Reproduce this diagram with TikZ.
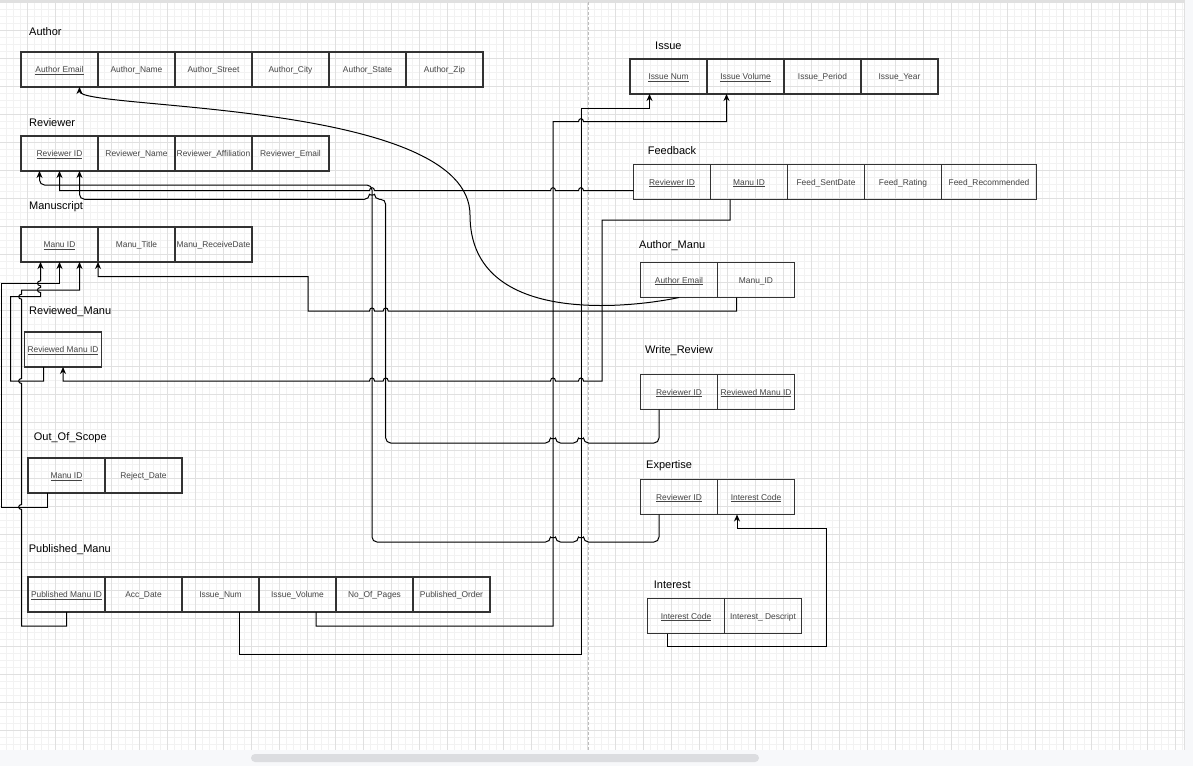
\documentclass[tikz,border=0pt]{standalone}
\usepackage{fontspec}
\setmainfont{Liberation Sans}
\usepackage{xcolor}
\usetikzlibrary{arrows.meta, positioning}
\definecolor{cellline}{HTML}{333333}
\definecolor{celltext}{HTML}{444444}
\definecolor{gridminor}{HTML}{F2F2F2}
\definecolor{gridmajor}{HTML}{E0E0E0}
\definecolor{chrome}{HTML}{F7F8FA}
\definecolor{thumb}{HTML}{DCDDE0}
\definecolor{pageline}{HTML}{BDBDBD}

% line jumps: moving left, moving right, moving up
\newcommand{\hopl}[2]{-- (#1+2.5,#2) .. controls (#1+2.5,#2-4) and (#1-2.5,#2-4) .. (#1-2.5,#2)}
\newcommand{\hopr}[2]{-- (#1-2.5,#2) .. controls (#1-2.5,#2-4) and (#1+2.5,#2-4) .. (#1+2.5,#2)}
\newcommand{\hopu}[2]{-- (#1,#2+2.5) .. controls (#1-4,#2+2.5) and (#1-4,#2-2.5) .. (#1,#2-2.5)}

\begin{document}
\begin{tikzpicture}[
    x=1pt, y=-1pt,
    attr/.style   = {
      rectangle, draw=cellline, line width=1.1pt,
      outer sep=0pt, inner sep=0pt,
      minimum width=77pt, minimum height=35pt,
      text height=7.5pt, text depth=1.5pt,
      text=celltext, font=\fontsize{8.4}{10}\selectfont
    },
    entity/.style = {anchor=west, inner sep=0pt, font=\fontsize{11}{13}\selectfont},
    fk/.style     = {-{Stealth[length=7pt,width=6pt]}, line width=1pt, black},
    pagebreak/.style = {pageline, line width=0.8pt, dash pattern=on 3pt off 2pt}
  ]

  % canvas
  \useasboundingbox (0,0) rectangle (1193,766);
  \fill[white] (0,0) rectangle (1193,766);
  \begin{scope}[shift={(-0.7,2)}]
    \draw[gridminor, line width=0.6pt, step=7pt]  (0,748) grid (1184.7,0);
    \draw[gridmajor, line width=0.8pt, step=28pt] (0,748) grid (1184.7,0);
  \end{scope}
  \fill[gridmajor] (0,0) rectangle (1184,1.8);
  \fill[chrome] (1184,0) rectangle (1193,766);
  \fill[chrome] (0,750) rectangle (1193,766);
  \draw[gridmajor, line width=1pt] (1184,0) -- (1184,750);
  \fill[thumb, rounded corners=4pt] (251,754) rectangle (759,762);
  \draw[pagebreak] (588,2) -- (588,750);

  % Left column — x=21
  \node[entity] (tAuthor) at (29,32) {Author};
  \node[attr] at (59.5,69.5) (au1) {\underline{Author Email}};
  \node[attr, right=0pt of au1] (au2) {Author\_Name};
  \node[attr, right=0pt of au2] (au3) {Author\_Street};
  \node[attr, right=0pt of au3] (au4) {Author\_City};
  \node[attr, right=0pt of au4] (au5) {Author\_State};
  \node[attr, right=0pt of au5] (au6) {Author\_Zip};

  \node[entity] (tReviewer) at (29,123) {Reviewer};
  \node[attr] at (59.5,153.5) (rv1) {\underline{Reviewer ID}};
  \node[attr, right=0pt of rv1] (rv2) {Reviewer\_Name};
  \node[attr, right=0pt of rv2] (rv3) {Reviewer\_Affiliation};
  \node[attr, right=0pt of rv3] (rv4) {Reviewer\_Email};

  \node[entity] (tManuscript) at (29,207) {Manuscript};
  \node[attr] at (59.5,244.5) (ms1) {\underline{Manu ID}};
  \node[attr, right=0pt of ms1] (ms2) {Manu\_Title};
  \node[attr, right=0pt of ms2] (ms3) {Manu\_ReceiveDate};

  \node[entity] (tReviewed) at (29,312) {Reviewed\_Manu};
  \node[attr] at (63,349.5) (rm1) {\underline{Reviewed Manu ID}};

  \node[entity] (tScope) at (33.7,438) {Out\_Of\_Scope};
  \node[attr] at (66.5,475.5) (os1) {\underline{Manu ID}};
  \node[attr, right=0pt of os1] (os2) {Reject\_Date};

  \node[entity] (tPublished) at (28.7,550) {Published\_Manu};
  \node[attr] at (66.5,594.5) (pm1) {\underline{Published Manu ID}};
  \node[attr, right=0pt of pm1] (pm2) {Acc\_Date};
  \node[attr, right=0pt of pm2] (pm3) {Issue\_Num};
  \node[attr, right=0pt of pm3] (pm4) {Issue\_Volume};
  \node[attr, right=0pt of pm4] (pm5) {No\_Of\_Pages};
  \node[attr, right=0pt of pm5] (pm6) {Published\_Order};

  % Right column — x=633
  \node[entity] (tIssue) at (655,46) {Issue};
  \node[attr] at (668.5,76.5) (is1) {\underline{Issue Num}};
  \node[attr, right=0pt of is1] (is2) {\underline{Issue Volume}};
  \node[attr, right=0pt of is2] (is3) {Issue\_Period};
  \node[attr, right=0pt of is3] (is4) {Issue\_Year};

  \node[entity] (tFeedback) at (647.7,151) {Feedback};
  \node[attr] at (672,182) (fb1) {\underline{Reviewer ID}};
  \node[attr, right=0pt of fb1] (fb2) {\underline{Manu ID}};
  \node[attr, right=0pt of fb2] (fb3) {Feed\_SentDate};
  \node[attr, right=0pt of fb3] (fb4) {Feed\_Rating};
  \node[attr, right=0pt of fb4, minimum width=95pt] (fb5) {Feed\_Recommended};

  \node[entity] (tAuthorManu) at (639,246) {Author\_Manu};
  \node[attr] at (679,280) (am1) {\underline{Author Email}};
  \node[attr, right=0pt of am1] (am2) {Manu\_ID};

  \node[entity] (tWrite) at (645,351) {Write\_Review};
  \node[attr] at (679,392) (wr1) {\underline{Reviewer ID}};
  \node[attr, right=0pt of wr1] (wr2) {\underline{Reviewed Manu ID}};

  \node[entity] (tExpertise) at (646,466) {Expertise};
  \node[attr] at (679,497) (ex1) {\underline{Reviewer ID}};
  \node[attr, right=0pt of ex1] (ex2) {\underline{Interest Code}};

  \node[entity] (tInterest) at (653.7,585) {Interest};
  \node[attr] at (686,616) (in1) {\underline{Interest Code}};
  \node[attr, right=0pt of in1] (in2) {Interest\_ Descript};

  % Foreign keys
  \draw[fk] (am1.south) .. controls (640,306) and (470,330) .. (470,215)
            .. controls (470,100) and (79.5,110) .. ([xshift=20pt]au1.south);
  \draw[fk] ([yshift=-8.7pt]fb1.west) \hopl{581}{190.7} \hopl{553}{190.7}
            \hopl{372}{190.7} -| (rv1.south);
  \draw[fk, rounded corners=5pt] ([xshift=-20pt]ex1.south) -- (659,542)
            \hopl{581}{542} \hopl{553}{542} -- (372,542) -- (372,185)
            -- (39.5,185) -- ([xshift=-20pt]rv1.south);
  \draw[fk, rounded corners=5pt] ([xshift=-20pt]wr1.south) -- (659,443)
            \hopl{581}{443} \hopl{553}{443} -- (385.7,443) -- (385.7,199.3)
            \hopl{372}{199.3} -- (79.5,199.3) -- ([xshift=20pt]rv1.south);
  \draw[fk] ([xshift=-19pt]fb2.south) -- (730,220) -- (602,220) -- (602,381)
            \hopl{581}{381} \hopl{553}{381} \hopl{385.7}{381} \hopl{372}{381}
            -| (rm1.south);
  \draw[fk] ([xshift=-19.5pt]am2.south) -- (736.5,311) \hopl{385.7}{311}
            \hopl{372}{311} -- (308,311) -- (308,276.7) -| (ms1.south east);
  \draw[fk] ([xshift=-19.5pt]rm1.south) -- (43.5,381) -- (10.7,381)
            -- (10.7,296.7) -- (40.5,296.7) \hopu{40.5}{290} \hopu{40.5}{283.3}
            -- ([xshift=-19pt]ms1.south);
  \draw[fk] ([xshift=-19pt]os1.south) -- (47.5,507) -- (1,507) -- (1,283.3)
            -| (ms1.south);
  \draw[fk] (pm1.south) -- (66.5,626) -- (21.7,626) \hopu{21.7}{507}
            \hopu{21.7}{381} \hopu{21.7}{296.7} -- (21.7,290)
            -| ([xshift=20pt]ms1.south);
  \draw[fk] ([xshift=19pt]pm3.south) -- (239.5,654) -- (581,654) -- (581,108.3)
            -| ([xshift=-19pt]is1.south);
  \draw[fk] ([xshift=18.5pt]pm4.south) -- (316,626) -- (553,626) -- (553,121.7)
            \hopr{581}{121.7} -| ([xshift=-19pt]is2.south);
  \draw[fk] ([xshift=-19pt]in1.south) -- (667,646.7) -- (826,646.7) -- (826,528)
            -| ([xshift=-19pt]ex2.south);
\end{tikzpicture}
\end{document}
